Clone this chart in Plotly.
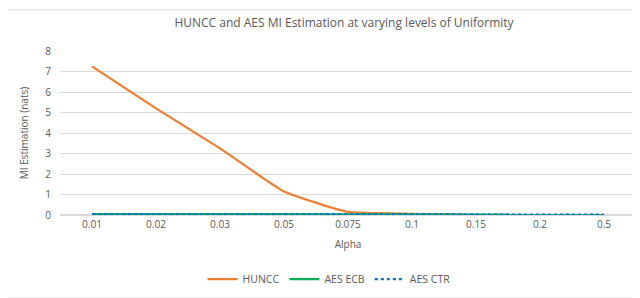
import plotly.graph_objects as go

alpha = ["0.01", "0.02", "0.03", "0.05", "0.075", "0.1", "0.15", "0.2", "0.5"]
huncc = [7.25, 5.2, 3.25, 1.15, 0.15, 0.06, 0.0, 0.0, 0.0]
aes_ecb = [0.05, 0.05, 0.05, 0.05, 0.05, 0.05, 0.02, 0.02, 0.02]
aes_ctr = [0.04, 0.04, 0.04, 0.04, 0.04, 0.04, 0.02, 0.02, 0.02]

grey = "#595959"
W, H = 640, 298
L, R, T, B = 52, 12, 43, 86
pw, ph = W - L - R, H - T - B

def px(x):
    return (x - L) / pw

def py(y):
    return (H - B - y) / ph

fig = go.Figure()
fig.add_trace(go.Scatter(x=alpha, y=huncc, mode="lines", name="HUNCC",
                         line=dict(color="#ED7D31", width=2.2, shape="spline", smoothing=0.4)))
fig.add_trace(go.Scatter(x=alpha, y=aes_ecb, mode="lines", name="AES ECB",
                         line=dict(color="#00B050", width=2.2)))
fig.add_trace(go.Scatter(x=alpha, y=aes_ctr, mode="lines", name="AES CTR",
                         line=dict(color="#0070C0", width=2.2, dash="dot")))

fig.update_layout(
    width=W, height=H,
    margin=dict(l=L, r=R, t=T, b=B),
    paper_bgcolor="white", plot_bgcolor="white",
    font=dict(family="Open Sans", color=grey, size=10),
    title=dict(text="HUNCC and AES MI Estimation at varying levels of Uniformity",
               x=px(336), xanchor="center", xref="paper", y=1 - 15 / H, yanchor="middle",
               font=dict(size=12, color=grey)),
    xaxis=dict(type="category", range=[-0.5, 8.5], automargin=False,
               title=dict(text="Alpha", font=dict(size=10), standoff=10),
               showgrid=False, showline=False, ticks="", tickfont=dict(size=10),
               ticklabelstandoff=2),
    yaxis=dict(range=[0, 8], dtick=1, automargin=False,
               title=dict(text="MI Estimation (nats)", font=dict(size=10), standoff=14),
               showgrid=True, gridcolor="#D9D9D9", gridwidth=1, zeroline=True,
               zerolinecolor="#D9D9D9", showline=False, ticks="", tickfont=dict(size=10),
               ticklabelstandoff=8),
    legend=dict(orientation="h", x=px(321), xanchor="center", y=py(278), yanchor="middle",
                font=dict(size=10.5)),
    showlegend=True,
    shapes=[dict(type="rect", xref="paper", yref="paper",
                 x0=px(-2), x1=px(639.5), y0=py(297.5), y1=py(0.5),
                 line=dict(color="#D9D9D9", width=1))],
)
fig.write_html("out.html")
